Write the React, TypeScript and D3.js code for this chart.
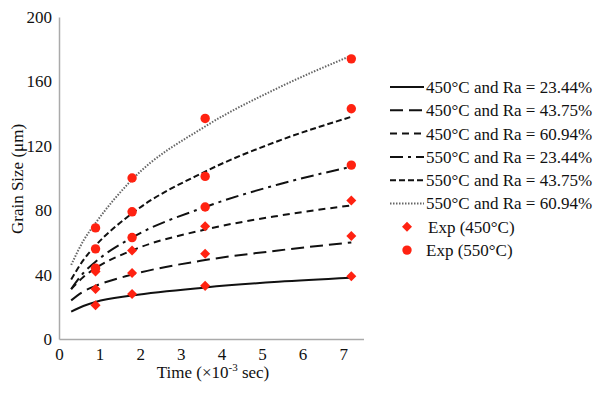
import * as d3 from 'd3'
import React, { useEffect, useRef } from 'react'

// model curves, grain size (µm) vs time (x10^-3 s)
const fitTimes = [0.3, 0.6, 0.9, 1.8, 3.6, 5.4, 7.2]
const fit450Ra2344 = [17, 20.5, 23, 27, 32, 35.5, 38]
const fit450Ra4375 = [24, 29.5, 33, 40, 49, 55, 60]
const fit450Ra6094 = [31, 38.5, 44, 55, 68, 76.5, 83]
const fit550Ra2344 = [31, 41, 48, 63, 82, 96, 107]
const fit550Ra4375 = [37, 49, 58, 78, 104, 123, 138]
const fit550Ra6094 = [46, 61, 72, 99, 132, 156, 176]

// measured points
const expTimes = [0.9, 1.8, 3.6, 7.2]
const exp450Ra2344 = [21, 28, 33, 39]
const exp450Ra4375 = [31, 41, 53, 64]
const exp450Ra6094 = [42, 55, 70, 86]
const exp550Ra2344 = [44, 63, 82, 108]
const exp550Ra4375 = [56, 79, 101, 143]
const exp550Ra6094 = [69, 100, 137, 174]

const fitLabels = [
    '450°C and Ra = 23.44%',
    '450°C and Ra = 43.75%',
    '450°C and Ra = 60.94%',
    '550°C and Ra = 23.44%',
    '550°C and Ra = 43.75%',
    '550°C and Ra = 60.94%',
]
const expLabels = ['Exp (450°C)', 'Exp (550°C)']

const xTicks = [0, 1, 2, 3, 4, 5, 6, 7]
const yTicks = [0, 40, 80, 120, 160, 200]

const fitSeries = [fit450Ra2344, fit450Ra4375, fit450Ra6094, fit550Ra2344, fit550Ra4375, fit550Ra6094]
const fitStyles = [
    { dash: null, color: '#111', width: 2 },
    { dash: '13,6', color: '#111', width: 2 },
    { dash: '7,5', color: '#111', width: 2 },
    { dash: '13,5,3,5', color: '#111', width: 2 },
    { dash: '6,3', color: '#111', width: 2 },
    { dash: '1.5,1.5', color: '#666', width: 2 },
]

const FONT = '"Liberation Serif", "Times New Roman", serif'
const RED = '#f21'

const GrainChart = (): JSX.Element => {
    const ref = useRef<SVGSVGElement>(null)
    const width = 601
    const height = 394

    useEffect(() => {
        const svg = d3.select(ref.current)
        svg.selectAll('*').remove()

        const x = d3.scaleLinear().domain([0, 7.5]).range([59, 363.5])
        const y = d3.scaleLinear().domain([0, 200]).range([339, 17])

        // axes
        const xAxis = svg
            .append('g')
            .attr('transform', `translate(0,${y(0)})`)
            .call(d3.axisBottom(x).tickValues(xTicks).tickSize(0).tickPadding(9))
        const yAxis = svg
            .append('g')
            .attr('transform', `translate(${x(0)},0)`)
            .call(d3.axisLeft(y).tickValues(yTicks).tickSize(0).tickPadding(7))
        ;[xAxis, yAxis].forEach((g) => {
            g.select('.domain').attr('stroke', '#aaa').attr('stroke-width', 1.5)
            g.selectAll('text')
                .attr('font-family', FONT)
                .attr('font-size', 17)
                .attr('fill', '#111')
        })

        svg.append('text')
            .attr('x', 213)
            .attr('y', 378)
            .attr('text-anchor', 'middle')
            .attr('font-family', FONT)
            .attr('font-size', 17)
            .attr('fill', '#111')
            .text('Time (×10')
            .append('tspan')
            .attr('dy', -7)
            .attr('font-size', 11)
            .text('-3')
            .append('tspan')
            .attr('dy', 7)
            .attr('font-size', 17)
            .text(' sec)')

        svg.append('text')
            .attr('transform', `translate(23,179) rotate(-90)`)
            .attr('text-anchor', 'middle')
            .attr('font-family', FONT)
            .attr('font-size', 17)
            .attr('fill', '#111')
            .text('Grain Size (μm)')

        // fitted curves
        const line = d3
            .line<number>()
            .x((d, i) => x(fitTimes[i]))
            .y((d) => y(d))
            .curve(d3.curveMonotoneX)

        fitSeries.forEach((s, i) => {
            const st = fitStyles[i]
            svg.append('path')
                .attr('d', line(s))
                .attr('fill', 'none')
                .attr('stroke', st.color)
                .attr('stroke-width', st.width)
                .attr('stroke-dasharray', st.dash)
        })

        // experimental markers
        const diamond = d3.symbol().type(d3.symbolDiamond2).size(64)
        ;[exp450Ra2344, exp450Ra4375, exp450Ra6094].forEach((s) => {
            svg.append('g')
                .selectAll('path')
                .data(s)
                .enter()
                .append('path')
                .attr('d', diamond)
                .attr('transform', (d, i) => `translate(${x(expTimes[i])},${y(d)})`)
                .attr('fill', RED)
        })
        ;[exp550Ra2344, exp550Ra4375, exp550Ra6094].forEach((s) => {
            svg.append('g')
                .selectAll('circle')
                .data(s)
                .enter()
                .append('circle')
                .attr('cx', (d, i) => x(expTimes[i]))
                .attr('cy', (d) => y(d))
                .attr('r', 4.7)
                .attr('fill', RED)
        })

        // legend
        const legend = svg.append('g')
        const rowY = (i: number) => 87 + i * 23.3
        fitLabels.forEach((label, i) => {
            const st = fitStyles[i]
            legend
                .append('line')
                .attr('x1', 390)
                .attr('x2', 424)
                .attr('y1', rowY(i))
                .attr('y2', rowY(i))
                .attr('stroke', st.color)
                .attr('stroke-width', st.width)
                .attr('stroke-dasharray', st.dash)
            legend
                .append('text')
                .attr('x', 426)
                .attr('y', rowY(i))
                .attr('dy', '0.35em')
                .attr('font-family', FONT)
                .attr('font-size', 17)
                .attr('fill', '#111')
                .text(label)
        })
        expLabels.forEach((label, i) => {
            const cy = rowY(fitLabels.length + i)
            if (i === 0) {
                legend
                    .append('path')
                    .attr('d', diamond)
                    .attr('transform', `translate(407,${cy})`)
                    .attr('fill', RED)
            } else {
                legend.append('circle').attr('cx', 407).attr('cy', cy).attr('r', 4.7).attr('fill', RED)
            }
            legend
                .append('text')
                .attr('x', i === 0 ? 428 : 426)
                .attr('y', cy)
                .attr('dy', '0.35em')
                .attr('font-family', FONT)
                .attr('font-size', 17)
                .attr('fill', '#111')
                .text(label)
        })
    }, [])

    return (
        <svg
            ref={ref}
            width={width}
            height={height}
            style={{ position: 'absolute', left: 0, top: 0, background: '#fff' }}
        />
    )
}

export default function App(): JSX.Element {
    return <GrainChart />
}
